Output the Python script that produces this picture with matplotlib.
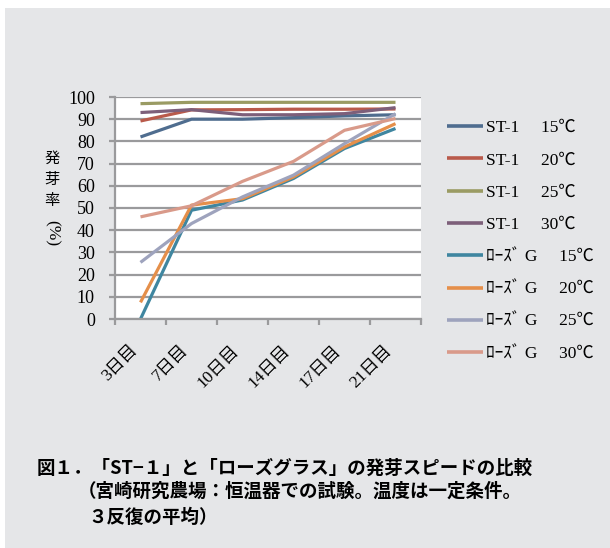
import matplotlib
matplotlib.use("Agg")
import matplotlib.pyplot as plt
from matplotlib.patches import Rectangle

days = ["3日目", "7日目", "10日目", "14日目", "17日目", "21日目"]
labels = ["ST-1\u3000 15℃", "ST-1\u3000 20℃", "ST-1\u3000 25℃", "ST-1\u3000 30℃",
          "ﾛｰｽﾞ G\u3000 15℃", "ﾛｰｽﾞ G\u3000 20℃", "ﾛｰｽﾞ G\u3000 25℃", "ﾛｰｽﾞ G\u3000 30℃"]
st1_15 = [82, 90, 90, 90.7, 91.5, 92]
st1_20 = [89.2, 94.2, 94.3, 94.5, 94.5, 94.6]
st1_25 = [97, 97.6, 97.6, 97.6, 97.6, 97.6]
st1_30 = [93, 94.3, 92, 92, 92.5, 95.2]
rg_15 = [0, 49, 53.6, 63.3, 76.8, 85.8]
rg_20 = [7.5, 51.3, 54.2, 64, 77.5, 88]
rg_25 = [25.5, 43, 55, 64.8, 79, 92.5]
rg_30 = [46, 51, 62, 71, 85, 90.3]
series = [st1_15, st1_20, st1_25, st1_30, rg_15, rg_20, rg_25, rg_30]
colors = ["#4f6d8f", "#b95a4b", "#9a9b63", "#7d5f7a",
          "#3f86a0", "#e58f4a", "#9ea3bd", "#d99a8a"]

serif = ["Liberation Serif", "Noto Sans CJK JP"]
gothic = ["Noto Sans CJK JP", "DejaVu Sans"]
grey = "#9a9a9c"
bg = "#e5e6e8"
plt.rcParams["font.family"] = serif

fig = plt.figure(figsize=(6.1, 5.48), dpi=100)
fig.patch.set_facecolor("white")
fig.patches.append(Rectangle((5 / 610, 0), 1, 1 - 8 / 548, transform=fig.transFigure,
                             facecolor=bg, edgecolor="none", zorder=-5))

ax = fig.add_axes([115 / 610, 1 - 319 / 548, 306 / 610, 222 / 548])
ax.set_facecolor("white")
xs = [i + 0.5 for i in range(len(days))]
for vals, c, lab in zip(series, colors, labels):
    ax.plot(xs, vals, color=c, lw=2.3, label=lab, solid_capstyle="butt")

ax.set_xlim(0, 6)
ax.set_ylim(0, 100)
ax.set_yticks(range(0, 101, 10))
ax.yaxis.grid(True, color=grey, lw=1.6)
ax.set_axisbelow(True)
for s in ["top", "right"]:
    ax.spines[s].set_visible(False)
for s in ["left", "bottom"]:
    ax.spines[s].set_color(grey)
    ax.spines[s].set_linewidth(1.6)
ax.tick_params(axis="y", length=4.5, width=1.6, color=grey, pad=10, labelsize=13)
ax.set_xticks(xs)
ax.set_xticklabels(days, rotation=45, ha="right", va="top", fontsize=12.5)
ax.set_xticks(range(0, 7), minor=True)
ax.tick_params(axis="x", which="major", length=0, pad=17)
ax.tick_params(axis="x", which="minor", length=4, width=1.6, color=grey)

# vertical axis title
for ch, yy in zip(["発", "芽", "率"], [158, 179, 200]):
    fig.text(52 / 610, 1 - yy / 548, ch, family=gothic, fontsize=11, ha="center", va="center")
fig.text(52 / 610, 1 - 233 / 548, "(%)", fontsize=12.5, ha="center", va="center",
         rotation=-90)

leg = fig.legend(loc="upper left", bbox_to_anchor=(447 / 610, 1 - 120 / 548),
                 frameon=False, prop={"size": 12.5},
                 borderaxespad=0, borderpad=0,
                 handlelength=2.1, handletextpad=0.15, labelspacing=0.93)
for ln in leg.get_lines():
    ln.set_linewidth(2.6)

fig.text(37 / 610, 1 - 468 / 548, "図１．「ST−１」と「ローズグラス」の発芽スピードの比較",
         family=gothic, fontsize=13.3, weight="bold", ha="left", va="center")
fig.text(78 / 610, 1 - 491 / 548, "（宮崎研究農場：恒温器での試験。温度は一定条件。",
         family=gothic, fontsize=13.3, weight="bold", ha="left", va="center")
fig.text(88 / 610, 1 - 517 / 548, "３反復の平均）",
         family=gothic, fontsize=13.3, weight="bold", ha="left", va="center")

fig.savefig("out.png", dpi=100)
